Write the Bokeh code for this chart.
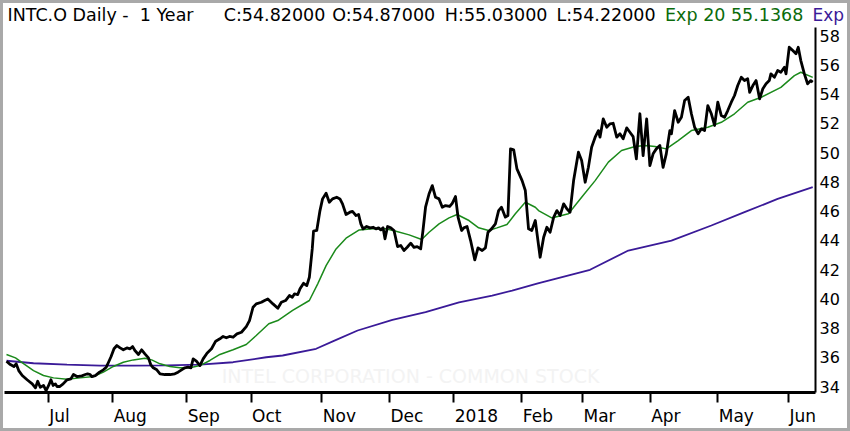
from bokeh.plotting import figure
from bokeh.layouts import column
from bokeh.models import Range1d, FixedTicker, Label, LinearAxis
from bokeh.embed import file_html
from bokeh.resources import INLINE

# ---------------- data (trading-day index, 0 = first trading day of Jul 2017) ----------------
month_days = [0, 20, 43, 63, 85, 106, 126, 147, 166, 187, 208, 230]
month_labels = ["Jul", "Aug", "Sep", "Oct", "Nov", "Dec", "2018", "Feb", "Mar", "Apr", "May", "Jun"]
price_ticks = [34, 36, 38, 40, 42, 44, 46, 48, 50, 52, 54, 56, 58]

close_day = [
    -13.0, -11.8, -10.7, -10.0, -9.2, -8.1, -6.6, -5.0, -4.0, -3.3,
    -2.5, -1.5, -0.7, 0.1, 0.8, 1.5, 2.2, 2.7, 3.5, 4.6,
    5.8, 7.0, 7.8, 8.9, 10.4, 11.5, 12.2, 13.0, 13.5, 14.6,
    15.9, 17.1, 18.0, 18.7, 19.5, 20.4, 21.3, 22.3, 23.3, 24.4,
    25.4, 26.2, 26.9, 28.0, 29.0, 30.0, 31.1, 31.8, 32.6, 33.7,
    34.7, 36.2, 37.8, 39.3, 40.3, 41.4, 42.4, 43.4, 44.3, 45.0,
    46.0, 47.1, 48.1, 49.3, 50.7, 52.0, 53.3, 54.3, 55.3, 56.3,
    57.4, 58.6, 60.0, 61.5, 62.5, 63.6, 64.6, 66.2, 67.2, 68.2,
    69.8, 71.3, 72.4, 73.7, 74.9, 75.8, 76.5, 77.5, 78.2, 79.3,
    80.3, 81.1, 82.0, 82.4, 83.4, 84.4, 85.2, 86.3, 87.3, 88.3,
    89.6, 90.6, 91.4, 92.5, 93.7, 94.5, 95.6, 96.4, 97.1, 97.8,
    98.9, 99.9, 100.9, 101.8, 102.6, 103.3, 104.0, 104.6, 105.4, 106.4,
    107.4, 108.5, 109.5, 110.5, 111.5, 112.6, 113.6, 114.6, 115.7, 116.4,
    117.2, 118.3, 119.3, 120.3, 121.4, 122.4, 123.4, 124.7, 125.5, 126.5,
    127.3, 128.4, 129.1, 130.1, 131.2, 132.5, 133.5, 134.8, 135.8, 136.6,
    137.7, 138.9, 139.9, 140.8, 142.0, 142.8, 143.6, 144.6, 145.6, 147.2,
    148.2, 149.2, 150.2,
    151.3, 152.8, 153.9, 154.9, 155.9, 157.0, 158.0, 159.0, 160.1, 161.1,
    162.1, 163.2, 164.7, 165.7, 166.8, 167.8, 168.8, 169.9, 170.9, 171.4,
    172.4, 173.5, 174.5, 175.5, 176.6, 177.6, 178.6, 179.7, 180.7, 181.7,
    182.7, 183.8, 184.8, 185.9, 186.9, 187.9, 188.9, 190.0, 191.0, 192.0,
    193.1, 193.6, 194.6, 195.7, 196.7, 197.7, 198.8, 199.8, 200.8, 201.9,
    202.9, 203.9, 204.9, 206.0, 207.0, 208.0, 209.1, 210.1, 211.1, 212.2,
    213.2, 214.2, 215.3, 216.3, 217.3, 217.9, 218.9, 219.9, 221.0, 222.0,
    223.0, 224.0, 224.5, 225.6, 226.6, 227.6, 228.7, 229.2, 230.2, 231.3,
    232.3, 233.0, 233.8, 234.9, 235.9, 236.9, 237.5,
]
close_price = [
    35.73, 35.50, 35.37, 35.55, 35.09, 34.75, 34.46, 34.18, 33.91, 34.36,
    33.95, 34.07, 33.72, 34.07, 34.46, 34.07, 34.18, 34.00, 34.00, 34.18,
    34.46, 34.52, 34.82, 34.68, 34.73, 34.82, 34.87, 34.82, 34.68, 34.75,
    34.98, 35.14, 35.32, 35.66, 36.05, 36.58, 36.80, 36.64, 36.51, 36.64,
    36.58, 36.73, 36.46, 36.19, 36.51, 36.23, 35.96, 35.50, 35.28, 35.14,
    34.87, 34.82, 34.82, 34.87, 34.98, 35.14, 35.28, 35.32, 35.28, 35.89,
    35.73, 35.43, 35.89, 36.28, 36.58, 37.10, 37.26, 37.42, 37.33, 37.42,
    37.37, 37.60, 37.71, 38.10, 38.51, 39.42, 39.65, 39.76, 39.88, 39.99,
    39.65, 39.35, 39.76, 39.88, 40.22, 40.10, 40.34, 40.29, 40.68, 41.06,
    40.90, 41.47, 43.41, 44.62, 44.67, 46.03, 46.83, 47.22, 46.60, 46.83,
    46.94, 46.83, 46.49, 45.76, 45.92, 45.98, 45.69, 45.76, 45.12, 44.78,
    44.94, 44.85, 44.89, 44.78, 44.85, 44.71, 44.85, 44.10, 44.94, 44.85,
    44.67, 43.57, 43.64, 43.30, 43.52, 43.80, 43.52, 43.57, 43.41, 44.67,
    46.26, 47.18, 47.74, 46.94, 46.83, 46.26, 46.37, 46.31, 46.53, 46.99,
    45.58, 44.67, 44.85, 44.94, 43.98, 42.66, 43.48, 43.30, 43.48, 44.55,
    44.78, 45.12, 46.03, 46.26, 45.58, 45.69, 50.25, 50.18, 48.88, 48.08,
    47.40, 44.78, 44.67,
    45.35, 42.84, 44.21, 44.89, 44.55, 45.57, 46.03, 45.69, 46.49, 46.15,
    45.92, 48.08, 50.02, 49.45, 47.97, 48.99, 50.36, 51.05, 51.50, 51.05,
    52.30, 51.73, 51.96, 52.00, 51.05, 51.28, 50.94, 51.69, 51.39, 51.09,
    49.57, 52.65, 49.79, 52.30, 49.11, 49.91, 50.25, 50.48, 48.99, 49.91,
    51.50, 51.28, 52.87, 52.07, 52.41, 53.56, 53.78, 52.65, 51.73, 51.28,
    51.62, 51.50, 53.21, 52.65, 51.85, 53.44, 52.53, 52.41, 52.87, 53.44,
    53.90, 54.58, 55.15, 54.92, 55.04, 54.12, 54.58, 54.92, 53.67, 54.36,
    54.70, 54.92, 55.38, 55.15, 55.61, 55.49, 55.83, 55.38, 57.20, 56.97,
    56.75, 57.20, 56.29, 55.38, 54.70, 54.92, 54.82,
]

ema20_day = [
    -13.0, -10.2, -7.6, -4.6, -1.5, 1.6, 5.8, 9.9, 14.0, 17.1,
    20.2, 23.3, 26.4, 30.0, 32.1, 34.7, 37.8, 40.9, 44.0, 47.1,
    50.2, 53.3, 57.4, 61.5, 64.6, 68.5, 71.3, 75.9, 81.1, 83.7,
    86.3, 89.4, 92.5, 96.6, 100.7, 104.9, 108.0, 112.1, 116.0, 118.3,
    121.4, 124.5, 127.0, 130.7, 133.7, 136.8, 139.4, 142.5, 145.1, 148.2,
    151.3, 152.3, 156.4, 161.6, 165.7, 169.9, 174.0, 178.1, 182.3, 185.4,
    188.5, 192.0, 195.7, 199.8, 204.9, 209.1, 213.2, 217.3, 221.5, 227.6,
    231.8, 233.8, 237.5,
]
ema20_price = [
    36.19, 35.96, 35.55, 35.09, 34.75, 34.59, 34.50, 34.59, 34.68, 34.98,
    35.37, 35.66, 35.82, 35.93, 35.82, 35.55, 35.37, 35.28, 35.28, 35.43,
    35.78, 36.19, 36.51, 36.87, 37.49, 38.29, 38.51, 39.20, 39.88, 41.02,
    42.27, 43.41, 44.14, 44.71, 44.78, 44.78, 44.62, 44.37, 44.05, 44.55,
    45.12, 45.53, 45.76, 45.35, 44.85, 44.67, 44.85, 45.08, 45.81, 46.60,
    46.26, 46.03, 45.53, 45.81, 46.94, 48.08, 49.34, 50.14, 50.41, 50.48,
    50.41, 50.25, 50.82, 51.50, 51.73, 52.07, 52.65, 53.44, 53.78, 54.46,
    55.26, 55.49, 55.14,
]

exp_long_day = [
    -13.0, -4.6, 5.8, 16.1, 26.4, 36.7, 47.1, 57.4, 67.7, 72.8,
    83.2, 88.9, 96.1, 106.9, 117.2, 127.6, 137.9, 144.1, 152.1, 168.3,
    180.2, 193.6, 206.0, 216.3, 226.6, 237.5,
]
exp_long_price = [
    35.76, 35.59, 35.49, 35.43, 35.43, 35.45, 35.49, 35.66, 36.00, 36.12,
    36.58, 37.14, 37.83, 38.56, 39.08, 39.76, 40.22, 40.56, 41.06, 41.98,
    43.30, 43.98, 45.01, 45.92, 46.83, 47.63,
]

title_parts = ["INTC.O Daily -\u00a0 1 Year", "C:54.82000", "O:54.87000", "H:55.03000",
               "L:54.22000", "Exp 20 55.1368"]
title_tail = "Exp"
watermark = "INTEL CORPORATION - COMMON STOCK"

# ---------------- layout / styles ----------------
FONT = "DejaVu Sans"
BLACK = "#000000"
GREEN_LINE = "#1b8a1b"
GREEN_TEXT = "#0b6b0b"
PURPLE = "#3a1a98"
PX_PER_DAY = 743 / 230.0
# half-width (+1px) of each month label, so that the label starts at its tick
label_shift_px = [11.3, 17.6, 17.0, 15.7, 17.6, 17.5, 22.6, 16.5, 17.0, 15.7, 18.6, 14.3]
TITLE_Y = 10.4

# ---- title strip (own small svg figure; its frame is aligned with the chart frame) ----
t = figure(width=844, height=22, output_backend="svg", toolbar_location=None,
           x_range=Range1d(4, 818), y_range=Range1d(0, 22),
           x_axis_type=None, y_axis_location="right",
           min_border_left=1, min_border_right=29, min_border_top=0, min_border_bottom=0)
t.outline_line_color = None
t.grid.visible = False
t.background_fill_color = "white"
t.border_fill_color = "white"
title_x = [7, 224, 333, 446, 558, 667]
title_col = [BLACK, BLACK, BLACK, BLACK, BLACK, GREEN_TEXT]
for tx, tt, tc in zip(title_x, title_parts, title_col):
    t.add_layout(Label(x=tx, y=TITLE_Y, text=tt, text_font=FONT, text_font_size="17.5px",
                       text_color=tc, text_align="left", text_baseline="middle"))
ta = t.yaxis[0]
ta.ticker = FixedTicker(ticks=[TITLE_Y])
ta.major_label_overrides = {TITLE_Y: title_tail}
ta.axis_line_color = None
ta.major_tick_out = 0
ta.major_tick_in = 0
ta.minor_tick_out = 0
ta.minor_tick_in = 0
ta.major_label_standoff = -3
ta.major_label_text_font = FONT
ta.major_label_text_font_size = "17px"
ta.major_label_text_color = PURPLE

# ---- main chart ----
p = figure(width=844, height=403, output_backend="svg", toolbar_location=None,
           x_range=Range1d(-13.62, 238.36), y_range=Range1d(33.59, 58.55),
           y_axis_location="right",
           min_border_left=1, min_border_right=29, min_border_top=2, min_border_bottom=36)
p.outline_line_color = None
p.grid.visible = False
p.background_fill_color = "white"
p.border_fill_color = "white"

# x axis 1: line + tick marks only
xa = p.xaxis[0]
xa.ticker = FixedTicker(ticks=month_days)
xa.major_label_overrides = {d: "" for d in month_days}
xa.major_label_text_font_size = "0px"
xa.major_label_standoff = 0
xa.axis_line_width = 3
xa.axis_line_color = BLACK
xa.major_tick_line_width = 2
xa.major_tick_line_color = BLACK
xa.major_tick_out = 10
xa.major_tick_in = 0
xa.minor_tick_out = 0
xa.minor_tick_in = 0

# x axis 2 (stacked below): the month labels, each starting at its tick
label_pos = [round(d + s / PX_PER_DAY, 3) for d, s in zip(month_days, label_shift_px)]
xl = LinearAxis(ticker=FixedTicker(ticks=label_pos),
                major_label_overrides={lp: l for lp, l in zip(label_pos, month_labels)})
xl.axis_line_color = None
xl.major_tick_out = 0
xl.major_tick_in = 0
xl.minor_tick_out = 0
xl.minor_tick_in = 0
xl.major_label_standoff = 3
xl.major_label_text_font = FONT
xl.major_label_text_font_size = "17px"
xl.major_label_text_color = BLACK
p.add_layout(xl, "below")

ya = p.yaxis[0]
ya.ticker = FixedTicker(ticks=price_ticks)
ya.axis_line_width = 2
ya.axis_line_color = BLACK
ya.major_tick_out = 0
ya.major_tick_in = 0
ya.minor_tick_out = 0
ya.minor_tick_in = 0
ya.major_label_standoff = 4
ya.major_label_text_font = FONT
ya.major_label_text_font_size = "16px"
ya.major_label_text_color = BLACK

p.add_layout(Label(x=406, y=17, x_units="screen", y_units="screen", text=watermark,
                   text_font=FONT, text_font_size="19px", text_color="#f3f3f3",
                   text_align="center", text_baseline="middle", level="underlay"))

p.line(exp_long_day, exp_long_price, line_color=PURPLE, line_width=1.8)
p.line(ema20_day, ema20_price, line_color=GREEN_LINE, line_width=1.5)
p.line(close_day, close_price, line_color=BLACK, line_width=2.8, line_join="round")

page = column(t, p, spacing=0, styles={"border": "3px solid #a9a9a9"})

open("out.html", "w").write(file_html(page, INLINE))
